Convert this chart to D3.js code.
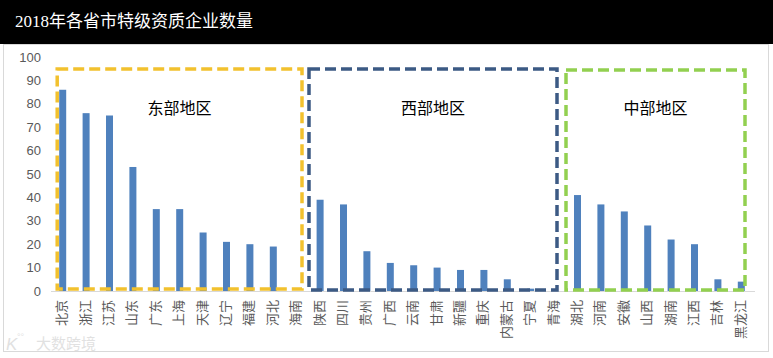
<!DOCTYPE html>
<html><head><meta charset="utf-8">
<script src="https://cdn.jsdelivr.net/npm/d3@7"></script>
<style>body{margin:0;background:#fff}svg{display:block}</style>
</head><body>
<svg id="c" width="773" height="358"></svg>
<script>
const title = "2018年各省市特级资质企业数量";
const categories = ["北京","浙江","江苏","山东","广东","上海","天津","辽宁","福建","河北","海南",
  "陕西","四川","贵州","广西","云南","甘肃","新疆","重庆","内蒙古","宁夏","青海",
  "湖北","河南","安徽","山西","湖南","江西","吉林","黑龙江"];
const values = [86,76,75,53,35,35,25,21,20,19,0,
  39,37,17,12,11,10,9,9,5,1,0,
  41,37,34,28,22,20,5,4];
const yTicks = [0,10,20,30,40,50,60,70,80,90,100];
const regions = ["东部地区","西部地区","中部地区"];
const regionFirst = ["北京","陕西","湖北"];
const regionLast = ["海南","青海","黑龙江"];
const regionColors = ["#F2C12E","#3C5A84","#92D050"];

const svg = d3.select("#c");
const W = 773, H = 358;

// chart border
svg.append("rect").attr("x",3.5).attr("y",44.5).attr("width",765).attr("height",307)
  .attr("fill","#fff").attr("stroke","#d9d9d9").attr("stroke-width",1);
// title bar
svg.append("rect").attr("x",0).attr("y",0).attr("width",W).attr("height",44).attr("fill","#000");
svg.append("text").attr("x",15).attr("y",27).attr("fill","#fff")
  .attr("font-family","'Liberation Serif', 'Noto Sans CJK SC', serif").attr("font-size",17)
  .text(title);

const x = d3.scaleBand().domain(categories).range([51,753]).padding(0);
const y = d3.scaleLinear().domain([0,100]).range([291,57]);

// y axis labels
const yAxis = d3.axisLeft(y).tickValues(yTicks).tickSize(0).tickPadding(0);
const yg = svg.append("g").attr("transform","translate(41,0)").call(yAxis);
yg.select(".domain").remove();
yg.selectAll("text").attr("fill","#595959").attr("font-size",13)
  .attr("font-family","'Liberation Sans', Arial, sans-serif");

// bars
const bw = 7;
svg.append("g").selectAll("rect").data(categories).join("rect")
  .attr("x",(d)=>x(d)+x.bandwidth()/2-bw/2)
  .attr("y",(d,i)=>y(values[i]))
  .attr("width",bw)
  .attr("height",(d,i)=>y(0)-y(values[i]))
  .attr("fill","#4F81BD");

// x axis line
svg.append("line").attr("x1",51).attr("x2",755).attr("y1",291.5).attr("y2",291.5)
  .attr("stroke","#d9d9d9").attr("stroke-width",1);

// x labels
const xAxis = d3.axisBottom(x).tickSize(0).tickPadding(0);
const xg = svg.append("g").attr("transform","translate(0,300)").call(xAxis);
xg.select(".domain").remove();
xg.selectAll("text")
  .attr("transform","rotate(-90)")
  .attr("x",0).attr("y",0).attr("dy","-2")
  .attr("text-anchor","end")
  .attr("dominant-baseline","central")
  .attr("fill","#595959").attr("font-size",13)
  .attr("font-family","'Noto Sans CJK SC', sans-serif");

// region boxes
const half = x.bandwidth()/2;
const boxes = [
  {x1: x(regionFirst[0]) + half - 5.5, x2: 302, y1: 69, y2: 289},
  {x1: 309, x2: 557, y1: 69, y2: 290},
  {x1: 566, x2: 745, y1: 70, y2: 290}
];
boxes.forEach((b,i)=>{
  svg.append("rect").attr("x",b.x1).attr("y",b.y1)
    .attr("width",b.x2-b.x1).attr("height",b.y2-b.y1)
    .attr("fill","none").attr("stroke",regionColors[i]).attr("stroke-width",3.5)
    .attr("stroke-dasharray","11,5");
  svg.append("text").attr("x",(b.x1+b.x2)/2).attr("y",114)
    .attr("text-anchor","middle").attr("font-size",16).attr("fill","#000")
    .attr("font-family","'Noto Sans CJK SC', sans-serif")
    .text(regions[i]);
});

// watermark
const wm = svg.append("g").attr("opacity",0.35);
wm.append("text").attr("x",6).attr("y",350).attr("font-size",17).attr("fill","#aaa")
  .attr("font-family","'Liberation Sans', sans-serif").attr("font-style","italic").text("K");
wm.append("text").attr("x",17).attr("y",340).attr("font-size",9).attr("fill","#aaa")
  .attr("font-family","'Liberation Sans', sans-serif").text("°°");
wm.append("text").attr("x",36).attr("y",349).attr("font-size",15).attr("fill","#aaa")
  .attr("font-family","'Noto Sans CJK SC', sans-serif").text("大数跨境");
</script>
</body></html>
